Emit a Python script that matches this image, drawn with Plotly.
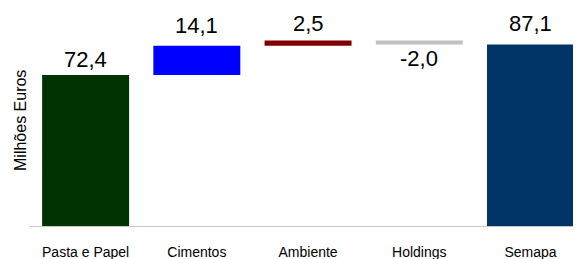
import plotly.graph_objects as go

categories = ["Pasta e Papel", "Cimentos", "Ambiente", "Holdings", "Semapa"]
values = [72.4, 14.1, 2.5, -2.0, 87.1]
is_total = [False, False, False, False, True]
colors = ["#003300", "#0000FF", "#800000", "#C0C0C0", "#003366"]
# pixel offsets of value labels from bar end (style)
label_shift = [16, 20, 17, -14, 21]

# compute bases for waterfall
bases = []
running = 0.0
for v, tot in zip(values, is_total):
    if tot:
        bases.append(0.0)
        running = v
    else:
        bases.append(running)
        running += v
ends = [b + v for b, v in zip(bases, values)]

fig = go.Figure()
fig.add_trace(go.Bar(
    x=categories,
    y=values,
    base=bases,
    marker=dict(color=colors, line=dict(width=0)),
    hoverinfo="skip",
))

annotations = []
for c, v, e, s in zip(categories, values, ends, label_shift):
    annotations.append(dict(
        x=c, y=e, xref="x", yref="y",
        text=f"{v:.1f}".replace(".", ","),
        showarrow=False, xanchor="center", yanchor="middle", yshift=s,
        font=dict(family="Liberation Sans, Arial, sans-serif", size=22, color="#000000"),
    ))
annotations.append(dict(
    text="Milhões Euros", textangle=-90,
    xref="paper", yref="paper", x=0, y=0.5,
    xanchor="center", yanchor="middle", xshift=-10, yshift=2,
    showarrow=False, font=dict(size=16, color="#000000"),
))

fig.update_layout(
    width=573, height=251,
    margin=dict(l=22, r=0, t=12, b=33),
    paper_bgcolor="white", plot_bgcolor="white",
    separators=",.",
    showlegend=False,
    bargap=0.218,
    font=dict(family="Liberation Sans, Arial, sans-serif", color="#000000"),
    xaxis=dict(
        type="category",
        range=[-0.5, 4.454],
        automargin=False,
        showline=True, linecolor="#C8C8C8", linewidth=1,
        ticks="outside", ticklen=13, tickcolor="rgba(0,0,0,0)",
        tickfont=dict(size=14, color="#000000"),
        showgrid=False, zeroline=False,
    ),
    yaxis=dict(
        range=[0, 98.8],
        automargin=False,
        showticklabels=False, showgrid=False, zeroline=False, showline=False,
        ticks="",
    ),
    annotations=annotations,
)

fig.write_html("out.html")
